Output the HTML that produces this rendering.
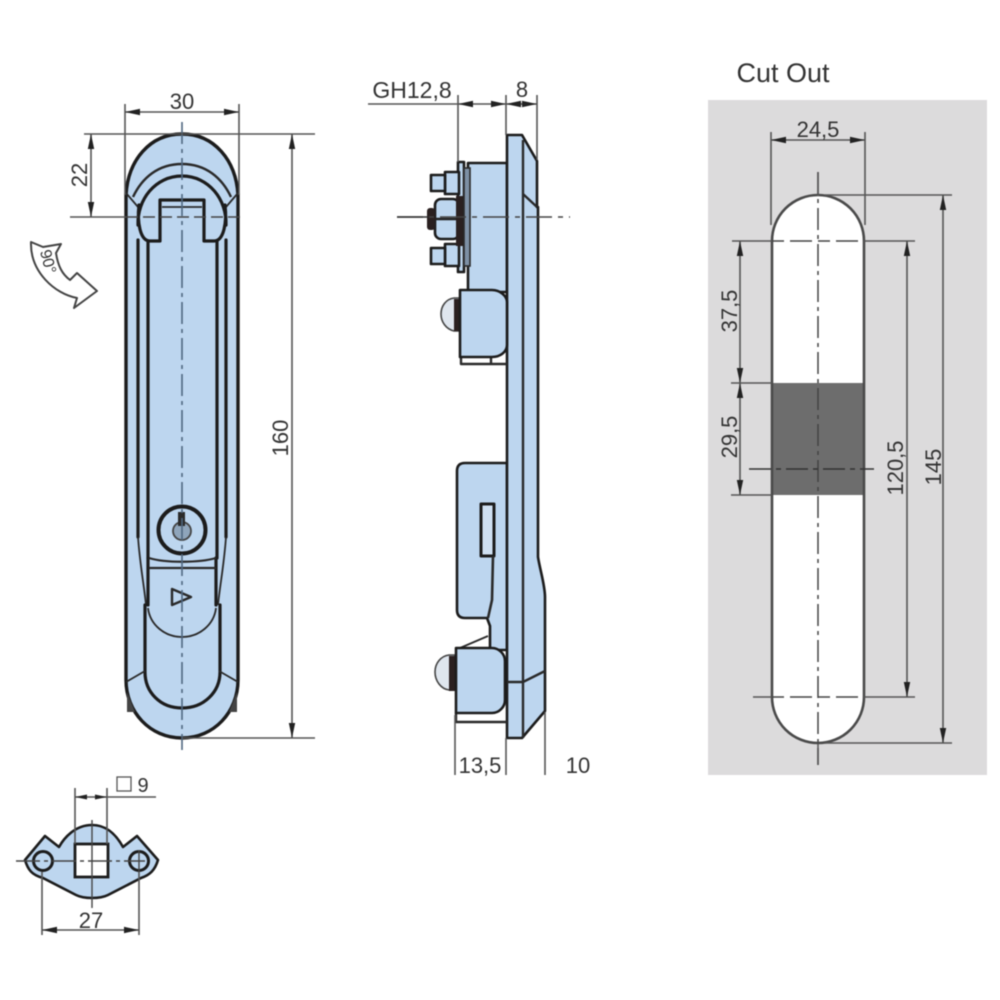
<!DOCTYPE html>
<html><head><meta charset="utf-8"><style>
html,body{margin:0;padding:0;background:#fff;width:1000px;height:1000px;overflow:hidden}
svg{display:block;filter:blur(.5px)}
text{font-family:"Liberation Sans",sans-serif;font-size:22px;fill:#333;text-anchor:middle}
.o{fill:none;stroke:#1c1c1c;stroke-width:3.2;stroke-linejoin:round;stroke-linecap:round}
.t{fill:none;stroke:#2a2a2a;stroke-width:1.8;stroke-linejoin:round}
.b{fill:#bdd6ef;stroke:#1c1c1c;stroke-width:2.6;stroke-linejoin:round}
.d{fill:none;stroke:#555;stroke-width:1.6}
.c{fill:none;stroke:#4f6780;stroke-width:1.6;stroke-dasharray:22 5 4 5}
.k{fill:none;stroke:#444;stroke-width:1.5;stroke-dasharray:22 5 4 5}
.a{fill:#222}
</style></head><body>
<svg width="1000" height="1000" viewBox="0 0 1000 1000" xmlns="http://www.w3.org/2000/svg">
<defs>
<path id="ar" d="M0 0L-3.2 15L3.2 15Z" fill="#222"/>
</defs>

<!-- FRONT VIEW -->
<path class="b" style="stroke-width:3.4" d="M126 195C128 160 150 134 182 134C214 134 236 160 238 195V680C238 712 214 738 182 738C150 738 126 712 126 680Z"/>
<path d="M127 692L135 712L127 712ZM237 692L229 712L237 712Z" fill="#444"/>
<path class="o" d="M138 225C137 200 155 176 182 176C209 176 227 200 226 225"/>
<path class="t" style="stroke-width:2.4" d="M133 197C142 178 158 164 182 164C206 164 222 178 231 197"/>
<path class="t" d="M126 193L138 207M238 193L226 207"/>
<path class="o" d="M139 205C137 222 140 241 150 241H160V200H204V241H214C224 241 227 222 225 205"/>
<path class="t" d="M162 207H202"/>
<path class="o" d="M138 240V537M148 241V558M217 241V558M226 240V537"/>
<path class="t" d="M138 537C140 565 144 585 146 605M226 537C224 565 220 585 218 605"/>
<path class="o" d="M148 558V605M216 558V605M145 605V672C145 692 160 708 182 708C204 708 220 692 220 672V605"/>
<path class="t" d="M126 682L145 671M238 682L219 671"/>
<path class="t" style="stroke-width:2.2" d="M149 558C165 563 199 563 216 558M149 568H216"/>
<path class="t" d="M148 608C150 625 165 637 182 637C199 637 214 625 216 608"/>
<circle cx="182" cy="530" r="23.5" fill="#bdd6ef" stroke="#1c1c1c" stroke-width="4"/>
<circle cx="182" cy="531" r="9" fill="#8fa5bb" stroke="#444" stroke-width="1.8"/>
<rect x="178" y="512" width="7" height="14" fill="#2a2a2a"/>
<path d="M172 589L172 605L191 597Z" fill="none" stroke="#2a2a2a" stroke-width="2.4" stroke-linejoin="round"/>
<path class="c" d="M182 122V750"/>
<path class="k" d="M126 217H240" style="stroke-dasharray:12 5"/>

<!-- front dims -->
<path class="d" d="M125 104V195M239 104V195M125 112H239M84 134H315M70 217H126M91 134V217M292 134V738M182 738H315"/>
<use href="#ar" transform="translate(125 112) rotate(-90)"/>
<use href="#ar" transform="translate(239 112) rotate(90)"/>
<use href="#ar" transform="translate(91 134)"/>
<use href="#ar" transform="translate(91 217) rotate(180)"/>
<use href="#ar" transform="translate(292 134)"/>
<use href="#ar" transform="translate(292 738) rotate(180)"/>
<text x="182" y="109">30</text>
<text transform="translate(87 175) rotate(-90)">22</text>
<text transform="translate(288 438) rotate(-90)">160</text>

<!-- 90 arrow -->
<path fill="#fff" stroke="#444" stroke-width="2" stroke-linejoin="round" d="M31 242L43 247L61 244L56 253C58 266 62 274 70 280L77 273L97 291L74 308L77 298C55 294 30 272 31 242Z"/>
<text transform="translate(43 263) rotate(75)" style="font-size:16px">90°</text>

<!-- SIDE VIEW -->
<path class="b" d="M468 163H507V292H468Z"/>
<path class="b" d="M507 463H465Q457 463 457 471V610Q457 618 465 618H487L490 626V650H507Z"/>
<path class="b" d="M507 135H522L537 161V207L538 207V557C540 570 545 585 545 597V711L522 738H507Z"/>
<path class="t" style="stroke-width:2.4" d="M523 140V738M523 194L537 207M507 682H523L545 671"/>
<!-- bolts/washer -->
<rect x="458" y="162" width="6" height="110" class="b"/>
<rect x="464" y="168" width="6" height="98" fill="#7d90a5" stroke="#2a2a2a" stroke-width="1.6"/>
<rect x="445" y="172" width="14" height="22" class="b"/>
<rect x="431" y="175" width="14" height="16" class="b"/>
<rect x="445" y="244" width="14" height="22" class="b"/>
<rect x="431" y="248" width="14" height="16" class="b"/>
<rect x="435" y="199" width="24" height="40" rx="6" class="b"/>
<path d="M435 219H459" stroke="#222" stroke-width="2.4"/>
<rect x="427" y="208" width="8" height="22" rx="3" fill="#2a2020"/>
<rect x="456" y="196" width="7" height="50" fill="#2a2020"/>
<!-- upper knob -->
<path fill="#dfe6ee" stroke="#444" stroke-width="1.6" d="M460 298H454C446 299 441 306 441 314C441 322 446 329 454 331H460Z"/>
<rect x="454" y="299" width="7" height="32" fill="#2a2020"/>
<path class="t" style="stroke-width:2.4" d="M461 357V364H507M491 357V364"/>
<path class="b" d="M460 290H492C500 290 507 296 507 302V345C507 352 500 357 492 357H460Z"/>
<!-- slot -->
<path class="b" d="M481 504H494V556H481Z" style="fill:#cfe0f2;stroke-width:3"/>
<path class="t" style="stroke-width:2.6" d="M493 556L492 600L488 618"/>
<!-- lower knob -->
<path class="t" d="M460 648L488 636"/>
<path fill="#dfe6ee" stroke="#444" stroke-width="1.6" d="M455 655H449C441 656 435 663 435 672C435 681 441 689 449 690H455Z"/>
<rect x="449" y="656" width="7" height="35" fill="#2a2020"/>
<path class="t" style="stroke-width:2.4" d="M456 713V722H507"/>
<path class="b" d="M456 648H492C499 648 505 654 505 661V700C505 707 499 713 492 713H456Z"/>
<path class="k" d="M397 217H570" style="stroke-dasharray:26 6 5 6"/>
<path d="M397 217H428" stroke="#333" stroke-width="1.5"/>
<!-- side dims -->
<path class="d" d="M368 104H537M458 95V162M506 95V135M537 95V160M455 715V775M506 738V775M545 712V775"/>
<use href="#ar" transform="translate(458 104) rotate(-90)"/>
<use href="#ar" transform="translate(506 104) rotate(90)"/>
<use href="#ar" transform="translate(506 104) rotate(-90)"/>
<use href="#ar" transform="translate(537 104) rotate(90)"/>
<text x="412" y="98" style="font-size:23px">GH12,8</text>
<text x="522" y="97">8</text>
<text x="480" y="773">13,5</text>
<text x="578" y="773">10</text>

<!-- BOTTOM PART -->
<path class="b" d="M25 860L45 836L59 847C64 838 75 825 92 825C109 825 118 838 123 847L137 836L158 860C155 870 150 875 141 878L108 895C100 899 84 899 76 895L43 878C32 875 28 870 25 860Z"/>
<rect x="75" y="844" width="33" height="33" fill="#fff" stroke="#1c1c1c" stroke-width="2.8"/>
<circle cx="43" cy="861" r="9.5" fill="#bdd6ef" stroke="#1c1c1c" stroke-width="3"/>
<circle cx="139" cy="861" r="9.5" fill="#bdd6ef" stroke="#1c1c1c" stroke-width="3"/>
<path d="M16 861H145" class="k" style="stroke-dasharray:24 4 4 4"/>
<path d="M92 820V908M139 850V872" stroke="#444" stroke-width="1.4" fill="none"/>
<path class="d" d="M75 788V844M107 788V844M75 797H156M42 872V935M139 872V935M42 930H139"/>
<use href="#ar" transform="translate(75 797) rotate(-90) scale(.8)"/>
<use href="#ar" transform="translate(107 797) rotate(90) scale(.8)"/>
<use href="#ar" transform="translate(42 930) rotate(-90)"/>
<use href="#ar" transform="translate(139 930) rotate(90)"/>
<rect x="117" y="777" width="14" height="14" fill="none" stroke="#555" stroke-width="1.3"/>
<text x="143" y="792" style="font-size:20px">9</text>
<text x="91" y="928">27</text>

<!-- CUT OUT -->
<text x="783" y="82" style="font-size:27px">Cut Out</text>
<rect x="708" y="100" width="279" height="675" fill="#dcdbdc"/>
<path d="M772 241A46 46 0 0 1 864 241V697A46 46 0 0 1 772 697Z" fill="#fff"/>
<rect x="772" y="383" width="92" height="112" fill="#6d6d6d"/>
<path d="M772 241A46 46 0 0 1 864 241V697A46 46 0 0 1 772 697Z" fill="none" stroke="#4a4a4a" stroke-width="2.6"/>
<path class="k" d="M818 172V765"/>
<path d="M818 172V196M818 744V765" stroke="#555" stroke-width="1.5"/>
<path class="k" d="M772 241H864" style="stroke-dasharray:12 6 22 6"/>
<path class="k" d="M772 697H864" style="stroke-dasharray:12 6 22 6"/>
<path class="k" d="M749 469H874" style="stroke-dasharray:22 5 5 5;stroke:#333"/>
<path class="d" d="M771 132V225M865 132V225M771 140H865M732 241H772M864 241H915M731 383H772M731 495H772M753 697H772M864 697H915M825 195H952M825 743H952M740 241V495M907 241V697M943 195V743" style="stroke:#555"/>
<use href="#ar" transform="translate(771 140) rotate(-90)"/>
<use href="#ar" transform="translate(865 140) rotate(90)"/>
<use href="#ar" transform="translate(740 241)"/>
<use href="#ar" transform="translate(740 383) rotate(180)"/>
<use href="#ar" transform="translate(740 383)"/>
<use href="#ar" transform="translate(740 495) rotate(180)"/>
<use href="#ar" transform="translate(907 241)"/>
<use href="#ar" transform="translate(907 697) rotate(180)"/>
<use href="#ar" transform="translate(943 195)"/>
<use href="#ar" transform="translate(943 743) rotate(180)"/>
<text x="818" y="137">24,5</text>
<text transform="translate(737 311) rotate(-90)">37,5</text>
<text transform="translate(737 437) rotate(-90)">29,5</text>
<text transform="translate(903 468) rotate(-90)">120,5</text>
<text transform="translate(941 467) rotate(-90)">145</text>
</svg>
</body></html>
